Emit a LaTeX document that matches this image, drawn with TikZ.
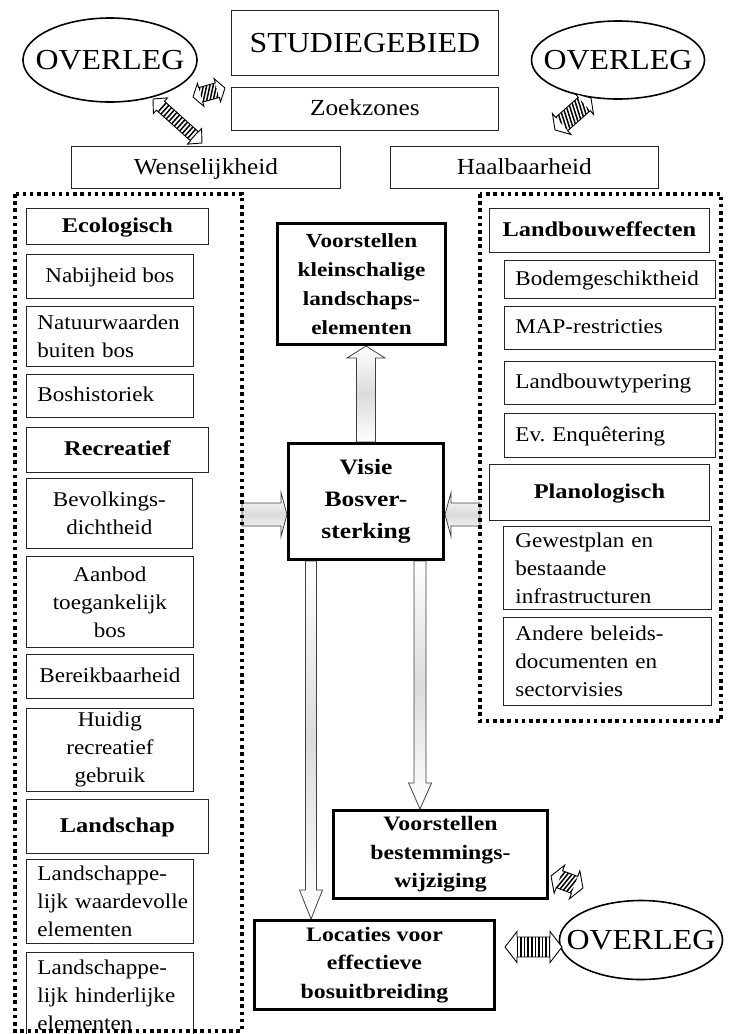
\documentclass[tikz,border=0pt]{standalone}
\usepackage{fontspec}
\setmainfont{Liberation Serif}[FakeStretch=1.1, BoldFeatures={FakeStretch=1.16}]
\usetikzlibrary{shapes.geometric,calc,backgrounds}

\newcommand\arrowgeom[2]{\path let \p1=(#1), \p2=(#2), \n1={atan2(\y2-\y1,\x2-\x1)}, \n2={veclen(\x2-\x1,\y2-\y1)} in \pgfextra{\xdef\arA{\n1}\xdef\arL{\n2}};}
% block arrow: start, end, shaft half width, head half width, head length
\newcommand\blkarrow[5]{%
  \arrowgeom{#1}{#2}%
  \begin{scope}[shift={(#1)}, rotate=\arA]
    \draw[blockarr] (0pt,-#3pt) -- ({\arL-#5pt},-#3pt) -- ({\arL-#5pt},-#4pt) -- ({\arL+0pt},0pt) -- ({\arL-#5pt},#4pt) -- ({\arL-#5pt},#3pt) -- (0pt,#3pt) -- cycle;
  \end{scope}}
% striped double arrow: start, end, shaft half, head half, head length, stripe slant
\newcommand\stripearr[6]{%
  \arrowgeom{#1}{#2}%
  \begin{scope}[shift={(#1)}, rotate=\arA]
    \fill[white] (0pt,0pt) -- (#5pt,#4pt) -- (#5pt,#3pt) -- ({\arL-#5pt},#3pt) -- ({\arL-#5pt},#4pt) -- ({\arL+0pt},0pt) -- ({\arL-#5pt},-#4pt) -- ({\arL-#5pt},-#3pt) -- (#5pt,-#3pt) -- (#5pt,-#4pt) -- cycle;
    \begin{scope}
      \clip (#5pt,-#3pt) rectangle ({\arL-#5pt},#3pt);
      \foreach \k in {-20,-16.4,...,120} \draw[line width=1.5pt] ({\k pt-#6pt/2},-#3pt) -- ({\k pt+#6pt/2},#3pt);
    \end{scope}
    \draw[line width=0.9pt, line join=miter] (0pt,0pt) -- (#5pt,#4pt) -- (#5pt,#3pt) -- ({\arL-#5pt},#3pt) -- ({\arL-#5pt},#4pt) -- ({\arL+0pt},0pt) -- ({\arL-#5pt},-#4pt) -- ({\arL-#5pt},-#3pt) -- (#5pt,-#3pt) -- (#5pt,-#4pt) -- cycle;
  \end{scope}}

\tikzset{
  bx/.style={draw=black!85, line width=0.8pt, inner sep=0pt, anchor=north west, align=center, font=\fontsize{21}{28}\selectfont},
  lft/.style={align=left, inner xsep=#1, inner ysep=0pt},
  one/.style={text height=14.5pt, text depth=2.5pt},
  hd/.style={bx, one, font=\fontsize{21}{28}\selectfont\bfseries},
  thk/.style={draw=black, line width=3pt, inner sep=0pt, anchor=north west, align=center, font=\fontsize{20.5}{28.5}\selectfont\bfseries},
  ovl/.style={ellipse, draw=black, line width=1.6pt, inner sep=0pt, label={[font=\fontsize{29}{30}\selectfont, inner sep=0pt]center:#1}},
  dotframe/.style={line width=3.5pt, dash pattern=on 3.5pt off 3.7pt},
  blockarr/.style={draw=black!75, line width=0.8pt, top color=white, bottom color=white, middle color=black!14},
}

\begin{document}
\begin{tikzpicture}[x=1pt, y=-1pt]
\useasboundingbox (0,0) rectangle (734,1034);
\clip (0,0) rectangle (734,1034);

% top
\node[bx, minimum width=267, minimum height=65, font=\fontsize{29}{30}\selectfont] (studie) at (231,10) {STUDIEGEBIED};
\node[bx, minimum width=267, minimum height=43, font=\fontsize{23}{26}\selectfont, text height=16pt, text depth=2pt] (zoek) at (231,87) {Zoekzones};
\node[bx, minimum width=269, minimum height=42, font=\fontsize{23}{26}\selectfont, text height=16pt, text depth=2pt] (wens) at (71,146) {Wenselijkheid};
\node[bx, minimum width=268, minimum height=42, font=\fontsize{23}{26}\selectfont, text height=16pt, text depth=2pt] (haal) at (390,146) {Haalbaarheid};
\node[ovl=OVERLEG, minimum width=174, minimum height=84] (ovl1) at (110,60) {};
\node[ovl=OVERLEG, minimum width=173, minimum height=78] (ovl2) at (618,60) {};

% left column
\node[hd, minimum width=182, minimum height=36] (eco) at (26,208) {Ecologisch};
\node[bx, one, minimum width=167, minimum height=44] (nab) at (26,254) {Nabijheid bos};
\node[bx, lft=11pt, text width=145, minimum width=167, minimum height=60] (nat) at (26,306) {\mbox{Natuurwaarden}\\\mbox{buiten bos}};
\node[bx, one, lft=11pt, text width=145, minimum width=167, minimum height=43] (bosh) at (26,374) {\mbox{Boshistoriek}};
\node[hd, minimum width=182, minimum height=45] (rec) at (26,427) {Recreatief};
\node[bx, minimum width=166, minimum height=70] (bev) at (26,478) {Bevolkings-\\dichtheid};
\node[bx, minimum width=167, minimum height=91] (aan) at (26,556) {Aanbod\\toegankelijk\\bos};
\node[bx, one, minimum width=167, minimum height=44] (ber) at (26,654) {Bereikbaarheid};
\node[bx, minimum width=167, minimum height=83] (hui) at (26,708) {Huidig\\recreatief\\gebruik};
\node[hd, minimum width=182, minimum height=54] (lan) at (26,799) {Landschap};
\node[bx, lft=11pt, text width=145, minimum width=167, minimum height=84] (lw) at (26,859) {\mbox{Landschappe-}\\\mbox{lijk waardevolle}\\\mbox{elementen}};
\node[bx, lft=11pt, text width=145, minimum width=167, minimum height=86] (lh) at (26,952) {\mbox{Landschappe-}\\\mbox{lijk hinderlijke}\\\mbox{elementen}};

% right column
\node[hd, minimum width=220, minimum height=44] (lbe) at (489,208) {Landbouweffecten};
\node[bx, one, lft=11pt, text width=189, minimum width=211, minimum height=38] (bod) at (504,260) {\mbox{Bodemgeschiktheid}};
\node[bx, one, lft=11pt, text width=189, minimum width=211, minimum height=43] (map) at (504,306) {\mbox{MAP-restricties}};
\node[bx, one, lft=11pt, text width=189, minimum width=211, minimum height=43] (lbt) at (504,361) {\mbox{Landbouwtypering}};
\node[bx, one, lft=11pt, text width=189, minimum width=211, minimum height=44] (enq) at (504,413) {\mbox{Ev.\ Enquêtering}};
\node[hd, minimum width=220, minimum height=56] (plan) at (489,464) {Planologisch};
\node[bx, lft=12pt, text width=184, minimum width=208, minimum height=83] (gew) at (503,526) {\mbox{Gewestplan en}\\\mbox{bestaande}\\\mbox{infrastructuren}};
\node[bx, lft=12pt, text width=184, minimum width=208, minimum height=88] (andr) at (503,617) {\mbox{Andere beleids-}\\\mbox{documenten en}\\\mbox{sectorvisies}};

% centre
\node[thk, minimum width=168, minimum height=121, font=\fontsize{20}{29}\selectfont\bfseries] (vks) at (276,222) {Voorstellen\\kleinschalige\\landschaps-\\elementen};
\node[thk, minimum width=155, minimum height=116, font=\fontsize{22}{32}\selectfont\bfseries] (visie) at (287,442) {Visie\\Bosver-\\sterking};
\node[thk, minimum width=214, minimum height=88] (vbw) at (332,809) {Voorstellen\\bestemmings-\\wijziging};
\node[thk, minimum width=240, minimum height=89] (loc) at (253,919) {Locaties voor\\effectieve\\bosuitbreiding};
\node[ovl=OVERLEG, minimum width=163, minimum height=79] (ovl3) at (641,940) {};

% arrow end points
\coordinate (lin) at (242,514.5);
\coordinate (rin) at (480,514.5);
\coordinate (d1) at ($(visie.south west)!0.152!(visie.south east)$);
\coordinate (d2) at ($(visie.south west)!0.842!(visie.south east)$);
\coordinate (a1s) at (193,97);  \coordinate (a1e) at (225,88);
\coordinate (a2s) at (153,99);  \coordinate (a2e) at (202,143);
\coordinate (a3s) at (555,130); \coordinate (a3e) at (591,98);
\coordinate (a4s) at (551,876); \coordinate (a4e) at (583,888);
\coordinate (a5s) at (505,947); \coordinate (a5e) at (562,947);

\begin{pgfonlayer}{background}
  \blkarrow{visie.north}{visie.north |- vks.south}{9.5}{19}{12}
  \blkarrow{lin}{lin -| visie.west}{11.5}{22}{6}
  \blkarrow{rin}{rin -| visie.east}{11.5}{22}{6}
  \blkarrow{d1}{d1 |- loc.north}{5.5}{11.5}{29}
  \blkarrow{d2}{d2 |- vbw.north}{6}{11.5}{26}
\end{pgfonlayer}

\stripearr{a1s}{a1e}{7.5}{12}{8}{8}
\stripearr{a2s}{a2e}{6}{10.5}{10}{0}
\stripearr{a3s}{a3e}{9}{14}{9}{8}
\stripearr{a4s}{a4e}{9}{15}{9}{6}
\stripearr{a5s}{a5e}{10}{15.5}{12}{0}

% dotted frames
\draw[dotframe] (15,194) rectangle (242,1031);
\draw[dotframe] (480,194) rectangle (721,721);
\end{tikzpicture}
\end{document}
